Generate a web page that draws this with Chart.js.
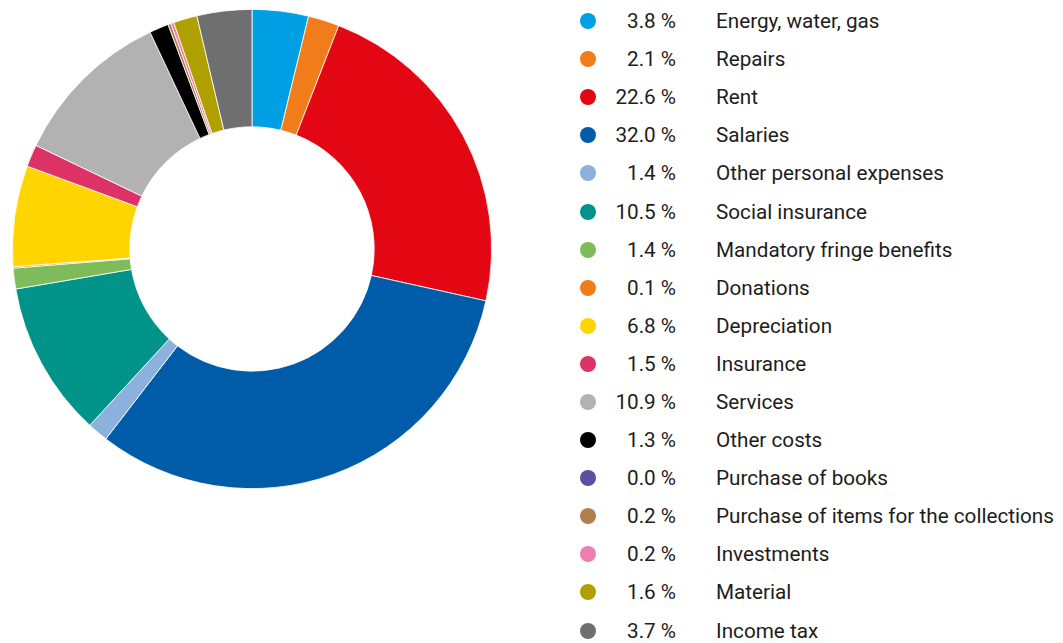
<!DOCTYPE html>
<html>
<head>
<meta charset="utf-8">
<script src="https://cdn.jsdelivr.net/npm/chart.js@4/dist/chart.umd.min.js"></script>
<style>
  html, body { margin: 0; padding: 0; background: #fff; }
  body { width: 1063px; height: 643px; overflow: hidden; position: relative; font-family: Roboto, sans-serif; color: #1d1d1b; }
  #chartBox { position: absolute; left: 12px; top: 9px; width: 480px; height: 480px; }
  #legend { position: absolute; left: 580px; top: 2px; margin: 0; padding: 0; list-style: none; }
  #legend li { height: 38.1px; display: flex; align-items: center; font-size: 20.7px; white-space: nowrap; }
  #legend .dot { width: 16px; height: 16px; border-radius: 50%; }
  #legend .pct { width: 80px; text-align: right; }
  #legend .lbl { margin-left: 40px; }
</style>
</head>
<body>
<div id="chartBox"><canvas id="myChart"></canvas></div>
<ul id="legend"></ul>
<script>
const categories = [
    'Energy, water, gas',
    'Repairs',
    'Rent',
    'Salaries',
    'Other personal expenses',
    'Social insurance',
    'Mandatory fringe benefits',
    'Donations',
    'Depreciation',
    'Insurance',
    'Services',
    'Other costs',
    'Purchase of books',
    'Purchase of items for the collections',
    'Investments',
    'Material',
    'Income tax',
]

const shares = [3.8, 2.1, 22.6, 32.0, 1.4, 10.5, 1.4, 0.1, 6.8, 1.5, 10.9, 1.3, 0.0, 0.2, 0.2, 1.6, 3.7]

const arrColors = [
    '#009FE3',
    '#F07D19',
    '#E30613',
    '#005CA9',
    '#8DB1DD',
    '#00938A',
    '#7DBB5B',
    '#F07D19',
    '#FFD500',
    '#DD3266',
    '#B2B2B2',
    '#000000',
    '#5D4F9D',
    '#B07F4C',
    '#EF7DB0',
    '#AFA000',
    '#6F6F6F',
]

const data = {
    labels: categories,
    datasets: [{
        data: shares,
        backgroundColor: arrColors,
        borderColor: '#ffffff',
        borderWidth: 0.8,
    }]
}

const config = {
    type: 'doughnut',
    data: data,
    options: {
        responsive: true,
        maintainAspectRatio: false,
        animation: false,
        cutout: '51%',
        layout: { padding: 0 },
        plugins: {
            legend: { display: false },
            tooltip: { enabled: false },
        }
    }
}

new Chart(document.getElementById('myChart'), config)

// legend: dot, right aligned share, label
var el = document.getElementById('legend')
categories.forEach((name, i) => {
    el.innerHTML += `<li><span class="dot" style="background:${arrColors[i]}"></span><span class="pct">${shares[i].toFixed(1)} %</span><span class="lbl">${name}</span></li>`
})
</script>
</body>
</html>
